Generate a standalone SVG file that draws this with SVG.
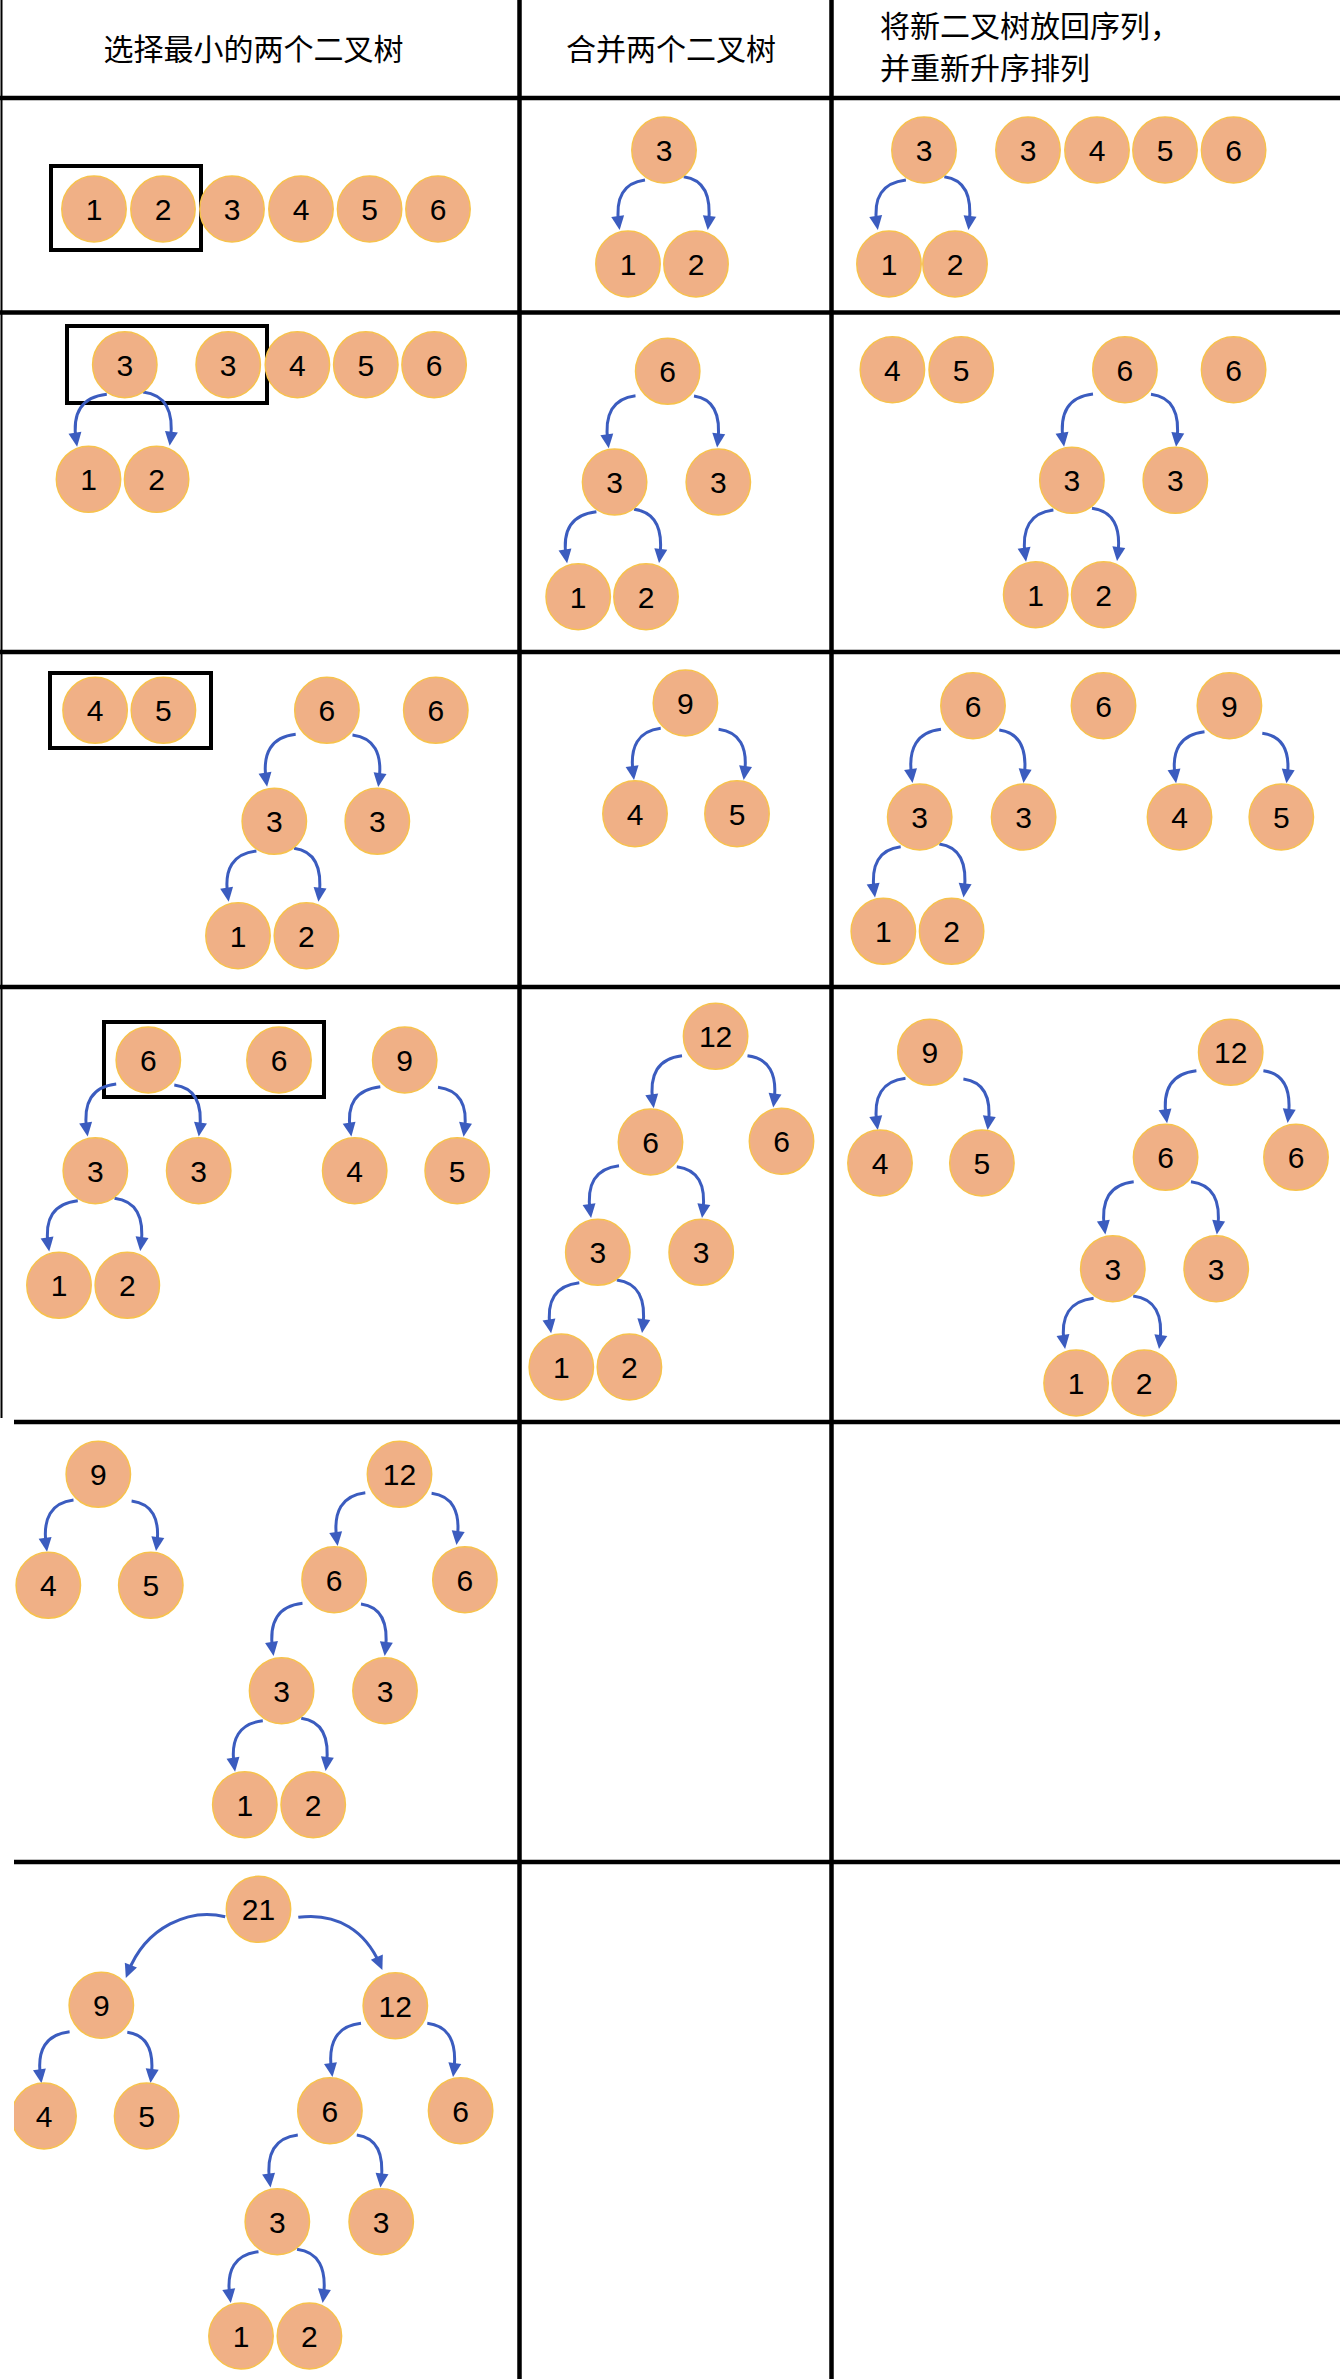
<svg xmlns="http://www.w3.org/2000/svg" width="1340" height="2379" viewBox="0 0 1340 2379">
<style>
.g{stroke:#000;stroke-width:4.5;fill:none}
.b{stroke:#000;stroke-width:2}
.box{stroke:#000;stroke-width:4;fill:none}
.n ellipse{fill:#F0B086;stroke:#F7C24C;stroke-width:1.5}
.n text{font-family:"Liberation Sans",Arial,sans-serif;font-size:30px;fill:#000;text-anchor:middle}
.h{font-family:"Noto Sans CJK SC","Noto Sans CJK TC",sans-serif;font-size:30px;fill:#000}
#edges path{fill:none;stroke:#3B5CBF;stroke-width:3;marker-end:url(#ah)}
</style>
<defs>
<marker id="ah" markerUnits="userSpaceOnUse" markerWidth="16" markerHeight="16" viewBox="0 0 16 16" refX="9" refY="8" orient="auto">
<path d="M1,1.5 L15,8 L1,14.5 z" fill="#3B5CBF"/>
</marker>
<clipPath id="clipL"><rect x="14" y="1862" width="1326" height="517"/></clipPath>
</defs>
<rect width="1340" height="2379" fill="#fff"/>
<g id="grid">
<line class="b" x1="1.5" y1="0" x2="1.5" y2="1418"/>
<line class="g" x1="519.5" y1="0" x2="519.5" y2="2379"/>
<line class="g" x1="831.5" y1="0" x2="831.5" y2="2379"/>
<line class="g" x1="0" y1="98" x2="1340" y2="98"/>
<line class="g" x1="0" y1="312.5" x2="1340" y2="312.5"/>
<line class="g" x1="0" y1="652" x2="1340" y2="652"/>
<line class="g" x1="0" y1="987" x2="1340" y2="987"/>
<line class="g" x1="14" y1="1422" x2="1340" y2="1422"/>
<line class="g" x1="14" y1="1862" x2="1340" y2="1862"/>
</g>
<g id="headers">
<text class="h" x="253.5" y="60" text-anchor="middle">选择最小的两个二叉树</text>
<text class="h" x="671" y="60" text-anchor="middle">合并两个二叉树</text>
<text class="h" x="880" y="37">将新二叉树放回序列，</text>
<text class="h" x="880" y="79">并重新升序排列</text>
</g>
<g id="boxes">
<rect class="box" x="51" y="166" width="150" height="84"/>
<rect class="box" x="67" y="326" width="200" height="77"/>
<rect class="box" x="50" y="673" width="161" height="75"/>
<rect class="box" x="104" y="1022" width="220" height="75"/>
</g>
<g id="edges">
<path d="M645 180 Q613.2 184 618.8 224"/>
<path d="M683.7 176.7 Q713.6 180.7 708.4 224"/>
<path d="M905.9 180 Q870.7 184 876.9 224"/>
<path d="M944.3 176.7 Q974.3 180.7 969.1 224"/>
<path d="M106.8 394.3 Q69.5 398.3 76.2 440.7"/>
<path d="M143 392 Q176.2 396 170.4 439.7"/>
<path d="M635.5 395.7 Q602 399.7 607.9 442.3"/>
<path d="M694 396 Q722.8 400 717.8 441.5"/>
<path d="M596.4 511.7 Q559.7 515.7 566.2 557.3"/>
<path d="M634 509.3 Q665.3 513.3 659.8 557"/>
<path d="M1093 394 Q1056.8 398 1063.2 440.7"/>
<path d="M1151 394.3 Q1182.3 398.3 1176.8 440.7"/>
<path d="M1053.4 510 Q1019.2 514 1025.2 555.7"/>
<path d="M1092 508.3 Q1123.3 512.3 1117.8 555"/>
<path d="M295.7 734.3 Q259.8 738.3 266.2 780.7"/>
<path d="M352.5 735 Q384.6 739 379 781"/>
<path d="M256.4 851 Q221.7 855 227.8 895.7"/>
<path d="M294 848.3 Q324.4 852.3 319.1 895.7"/>
<path d="M660.7 728.3 Q627.3 732.3 633.2 774"/>
<path d="M718.6 729.3 Q750 733.3 744.5 774"/>
<path d="M941 729.3 Q905.4 733.3 911.7 777"/>
<path d="M999.3 730 Q1029.4 734 1024.2 777"/>
<path d="M900.7 846.7 Q868.6 850.7 874.2 891.5"/>
<path d="M939.3 844 Q969.4 848 964.2 891.5"/>
<path d="M1204.5 731.7 Q1168.9 735.7 1175.2 777.3"/>
<path d="M1262.3 733.3 Q1292.4 737.3 1287.2 777.3"/>
<path d="M116.2 1084 Q80.5 1088 86.8 1130.5"/>
<path d="M174.3 1085 Q204.8 1089 199.5 1130.5"/>
<path d="M77.8 1200.7 Q41.9 1204.7 48.3 1245.5"/>
<path d="M114.5 1198.3 Q146.6 1202.3 141 1245"/>
<path d="M380.3 1086.7 Q343.9 1090.7 350.4 1130.7"/>
<path d="M438 1087.3 Q470 1091.3 464.4 1130.7"/>
<path d="M682 1055.7 Q646.6 1059.7 652.9 1102.3"/>
<path d="M747.5 1055.7 Q779.6 1059.7 774 1101.5"/>
<path d="M619 1165.7 Q584 1169.7 590.2 1212"/>
<path d="M676.8 1166.7 Q708.3 1170.7 702.8 1212"/>
<path d="M579.3 1282.7 Q543.9 1286.7 550.2 1327.3"/>
<path d="M616.8 1280 Q648.3 1284 642.8 1327"/>
<path d="M905.5 1078.3 Q870.8 1082.3 876.9 1124"/>
<path d="M963.4 1079 Q993.5 1083 988.3 1124"/>
<path d="M1196.4 1070.7 Q1159.7 1074.7 1166.2 1117.3"/>
<path d="M1263.4 1070.7 Q1293.5 1074.7 1288.3 1117"/>
<path d="M1133.7 1181.7 Q1098.2 1185.7 1104.5 1228.5"/>
<path d="M1191 1181.7 Q1223.3 1185.7 1217.6 1228.5"/>
<path d="M1093.6 1298.3 Q1057.9 1302.3 1064.2 1343"/>
<path d="M1133.2 1296 Q1165.5 1300 1159.8 1343"/>
<path d="M73.5 1500 Q40.4 1504 46.2 1545.7"/>
<path d="M131.6 1501 Q162.1 1505 156.8 1545"/>
<path d="M365.3 1492.7 Q330.7 1496.7 336.8 1540"/>
<path d="M431.6 1493.3 Q462.6 1497.3 457.2 1539"/>
<path d="M302.5 1603.3 Q266.3 1607.3 272.7 1650"/>
<path d="M361 1604 Q390.5 1608 385.4 1650"/>
<path d="M262.8 1720.7 Q228.1 1724.7 234.2 1765.7"/>
<path d="M301.2 1718.3 Q331.7 1722.3 326.4 1765"/>
<path d="M225.2 1916.7 C190 1908 146 1926 128 1972.5"/>
<path d="M298.3 1917.3 C338 1912 366 1932 380 1964.5"/>
<path d="M69.6 2031.7 Q34.4 2035.7 40.6 2077.3"/>
<path d="M127.3 2032.3 Q156.2 2036.3 151.2 2077"/>
<path d="M361 2023.3 Q325.3 2027.3 331.6 2071"/>
<path d="M427.3 2023.3 Q459.4 2027.3 453.8 2071"/>
<path d="M297.8 2135 Q263.7 2139 269.7 2181.5"/>
<path d="M356.8 2135 Q386.2 2139 381.1 2181.5"/>
<path d="M258.5 2251.7 Q223.8 2255.7 229.9 2297"/>
<path d="M297 2249.3 Q329 2253.3 323.4 2297"/>
</g>
<g id="nodes">
<g id="r1c1-1" class="n"><ellipse cx="94" cy="209" rx="32.2" ry="33"/><text x="94" y="220">1</text></g>
<g id="r1c1-2" class="n"><ellipse cx="163" cy="209" rx="32.2" ry="33"/><text x="163" y="220">2</text></g>
<g id="r1c1-3" class="n"><ellipse cx="232" cy="209" rx="32.2" ry="33"/><text x="232" y="220">3</text></g>
<g id="r1c1-4" class="n"><ellipse cx="301" cy="209" rx="32.2" ry="33"/><text x="301" y="220">4</text></g>
<g id="r1c1-5" class="n"><ellipse cx="369.6" cy="209" rx="32.2" ry="33"/><text x="369.6" y="220">5</text></g>
<g id="r1c1-6" class="n"><ellipse cx="438" cy="209" rx="32.2" ry="33"/><text x="438" y="220">6</text></g>

<g id="r1c2-3" class="n"><ellipse cx="664" cy="150" rx="32.2" ry="33"/><text x="664" y="161">3</text></g>
<g id="r1c2-1" class="n"><ellipse cx="628" cy="264" rx="32.2" ry="33"/><text x="628" y="275">1</text></g>
<g id="r1c2-2" class="n"><ellipse cx="696" cy="264" rx="32.2" ry="33"/><text x="696" y="275">2</text></g>

<g id="r1c3-3a" class="n"><ellipse cx="924" cy="150" rx="32.2" ry="33"/><text x="924" y="161">3</text></g>
<g id="r1c3-1" class="n"><ellipse cx="889" cy="264" rx="32.2" ry="33"/><text x="889" y="275">1</text></g>
<g id="r1c3-2" class="n"><ellipse cx="955" cy="264" rx="32.2" ry="33"/><text x="955" y="275">2</text></g>
<g id="r1c3-3b" class="n"><ellipse cx="1028" cy="150" rx="32.2" ry="33"/><text x="1028" y="161">3</text></g>
<g id="r1c3-4" class="n"><ellipse cx="1097" cy="150" rx="32.2" ry="33"/><text x="1097" y="161">4</text></g>
<g id="r1c3-5" class="n"><ellipse cx="1165" cy="150" rx="32.2" ry="33"/><text x="1165" y="161">5</text></g>
<g id="r1c3-6" class="n"><ellipse cx="1233.6" cy="150" rx="32.2" ry="33"/><text x="1233.6" y="161">6</text></g>

<g id="r2c1-3a" class="n"><ellipse cx="124.8" cy="364.7" rx="32.2" ry="33"/><text x="124.8" y="375.7">3</text></g>
<g id="r2c1-3b" class="n"><ellipse cx="228.2" cy="364.7" rx="32.2" ry="33"/><text x="228.2" y="375.7">3</text></g>
<g id="r2c1-4" class="n"><ellipse cx="297.4" cy="364.7" rx="32.2" ry="33"/><text x="297.4" y="375.7">4</text></g>
<g id="r2c1-5" class="n"><ellipse cx="365.8" cy="364.7" rx="32.2" ry="33"/><text x="365.8" y="375.7">5</text></g>
<g id="r2c1-6" class="n"><ellipse cx="434.1" cy="364.7" rx="32.2" ry="33"/><text x="434.1" y="375.7">6</text></g>
<g id="r2c1-1" class="n"><ellipse cx="88.5" cy="479.2" rx="32.2" ry="33"/><text x="88.5" y="490.2">1</text></g>
<g id="r2c1-2" class="n"><ellipse cx="156.6" cy="479.2" rx="32.2" ry="33"/><text x="156.6" y="490.2">2</text></g>

<g id="r2c2-6" class="n"><ellipse cx="667.7" cy="371.3" rx="32.2" ry="33"/><text x="667.7" y="382.3">6</text></g>
<g id="r2c2-3a" class="n"><ellipse cx="614.6" cy="482" rx="32.2" ry="33"/><text x="614.6" y="493">3</text></g>
<g id="r2c2-3b" class="n"><ellipse cx="718.3" cy="482" rx="32.2" ry="33"/><text x="718.3" y="493">3</text></g>
<g id="r2c2-1" class="n"><ellipse cx="578.2" cy="596.7" rx="32.2" ry="33"/><text x="578.2" y="607.7">1</text></g>
<g id="r2c2-2" class="n"><ellipse cx="646" cy="596.7" rx="32.2" ry="33"/><text x="646" y="607.7">2</text></g>

<g id="r2c3-4" class="n"><ellipse cx="892.4" cy="369.7" rx="32.2" ry="33"/><text x="892.4" y="380.7">4</text></g>
<g id="r2c3-5" class="n"><ellipse cx="961.2" cy="369.7" rx="32.2" ry="33"/><text x="961.2" y="380.7">5</text></g>
<g id="r2c3-6a" class="n"><ellipse cx="1124.9" cy="369.7" rx="32.2" ry="33"/><text x="1124.9" y="380.7">6</text></g>
<g id="r2c3-6b" class="n"><ellipse cx="1233.6" cy="369.7" rx="32.2" ry="33"/><text x="1233.6" y="380.7">6</text></g>
<g id="r2c3-3a" class="n"><ellipse cx="1071.9" cy="480.3" rx="32.2" ry="33"/><text x="1071.9" y="491.3">3</text></g>
<g id="r2c3-3b" class="n"><ellipse cx="1175.3" cy="480.3" rx="32.2" ry="33"/><text x="1175.3" y="491.3">3</text></g>
<g id="r2c3-1" class="n"><ellipse cx="1035.7" cy="594.7" rx="32.2" ry="33"/><text x="1035.7" y="605.7">1</text></g>
<g id="r2c3-2" class="n"><ellipse cx="1103.7" cy="594.7" rx="32.2" ry="33"/><text x="1103.7" y="605.7">2</text></g>

<g id="r3c1-4" class="n"><ellipse cx="95.1" cy="710.3" rx="32.2" ry="33"/><text x="95.1" y="721.3">4</text></g>
<g id="r3c1-5" class="n"><ellipse cx="163.4" cy="710.3" rx="32.2" ry="33"/><text x="163.4" y="721.3">5</text></g>
<g id="r3c1-6a" class="n"><ellipse cx="326.9" cy="710.3" rx="32.2" ry="33"/><text x="326.9" y="721.3">6</text></g>
<g id="r3c1-6b" class="n"><ellipse cx="435.8" cy="710.3" rx="32.2" ry="33"/><text x="435.8" y="721.3">6</text></g>
<g id="r3c1-3a" class="n"><ellipse cx="274.3" cy="821.3" rx="32.2" ry="33"/><text x="274.3" y="832.3">3</text></g>
<g id="r3c1-3b" class="n"><ellipse cx="377.3" cy="821.3" rx="32.2" ry="33"/><text x="377.3" y="832.3">3</text></g>
<g id="r3c1-1" class="n"><ellipse cx="238" cy="935.7" rx="32.2" ry="33"/><text x="238" y="946.7">1</text></g>
<g id="r3c1-2" class="n"><ellipse cx="306.4" cy="935.7" rx="32.2" ry="33"/><text x="306.4" y="946.7">2</text></g>

<g id="r3c2-9" class="n"><ellipse cx="685.4" cy="703" rx="32.2" ry="33"/><text x="685.4" y="714">9</text></g>
<g id="r3c2-4" class="n"><ellipse cx="635" cy="813.7" rx="32.2" ry="33"/><text x="635" y="824.7">4</text></g>
<g id="r3c2-5" class="n"><ellipse cx="737" cy="813.7" rx="32.2" ry="33"/><text x="737" y="824.7">5</text></g>

<g id="r3c3-6a" class="n"><ellipse cx="973" cy="705.7" rx="32.2" ry="33"/><text x="973" y="716.7">6</text></g>
<g id="r3c3-6b" class="n"><ellipse cx="1103.5" cy="705.7" rx="32.2" ry="33"/><text x="1103.5" y="716.7">6</text></g>
<g id="r3c3-9" class="n"><ellipse cx="1229.4" cy="705.7" rx="32.2" ry="33"/><text x="1229.4" y="716.7">9</text></g>
<g id="r3c3-3a" class="n"><ellipse cx="919.7" cy="817" rx="32.2" ry="33"/><text x="919.7" y="828">3</text></g>
<g id="r3c3-3b" class="n"><ellipse cx="1023.6" cy="817" rx="32.2" ry="33"/><text x="1023.6" y="828">3</text></g>
<g id="r3c3-4" class="n"><ellipse cx="1179.5" cy="817" rx="32.2" ry="33"/><text x="1179.5" y="828">4</text></g>
<g id="r3c3-5" class="n"><ellipse cx="1281.3" cy="817" rx="32.2" ry="33"/><text x="1281.3" y="828">5</text></g>
<g id="r3c3-1" class="n"><ellipse cx="883.3" cy="931.3" rx="32.2" ry="33"/><text x="883.3" y="942.3">1</text></g>
<g id="r3c3-2" class="n"><ellipse cx="951.6" cy="931.3" rx="32.2" ry="33"/><text x="951.6" y="942.3">2</text></g>

<g id="r4c1-6a" class="n"><ellipse cx="148.3" cy="1060" rx="32.2" ry="33"/><text x="148.3" y="1071">6</text></g>
<g id="r4c1-6b" class="n"><ellipse cx="279" cy="1060" rx="32.2" ry="33"/><text x="279" y="1071">6</text></g>
<g id="r4c1-9" class="n"><ellipse cx="404.7" cy="1060" rx="32.2" ry="33"/><text x="404.7" y="1071">9</text></g>
<g id="r4c1-3a" class="n"><ellipse cx="95.3" cy="1170.7" rx="32.2" ry="33"/><text x="95.3" y="1181.7">3</text></g>
<g id="r4c1-3b" class="n"><ellipse cx="198.7" cy="1170.7" rx="32.2" ry="33"/><text x="198.7" y="1181.7">3</text></g>
<g id="r4c1-4" class="n"><ellipse cx="354.7" cy="1170.7" rx="32.2" ry="33"/><text x="354.7" y="1181.7">4</text></g>
<g id="r4c1-5" class="n"><ellipse cx="457.2" cy="1170.7" rx="32.2" ry="33"/><text x="457.2" y="1181.7">5</text></g>
<g id="r4c1-1" class="n"><ellipse cx="59" cy="1285.3" rx="32.2" ry="33"/><text x="59" y="1296.3">1</text></g>
<g id="r4c1-2" class="n"><ellipse cx="127.3" cy="1285.3" rx="32.2" ry="33"/><text x="127.3" y="1296.3">2</text></g>

<g id="r4c2-12" class="n"><ellipse cx="715.6" cy="1036.3" rx="32.2" ry="33"/><text x="715.6" y="1047.3">12</text></g>
<g id="r4c2-6a" class="n"><ellipse cx="650.5" cy="1142" rx="32.2" ry="33"/><text x="650.5" y="1153">6</text></g>
<g id="r4c2-6b" class="n"><ellipse cx="781.5" cy="1141.3" rx="32.2" ry="33"/><text x="781.5" y="1152.3">6</text></g>
<g id="r4c2-3a" class="n"><ellipse cx="597.8" cy="1252.3" rx="32.2" ry="33"/><text x="597.8" y="1263.3">3</text></g>
<g id="r4c2-3b" class="n"><ellipse cx="701.2" cy="1252.3" rx="32.2" ry="33"/><text x="701.2" y="1263.3">3</text></g>
<g id="r4c2-1" class="n"><ellipse cx="561.3" cy="1367" rx="32.2" ry="33"/><text x="561.3" y="1378">1</text></g>
<g id="r4c2-2" class="n"><ellipse cx="629.4" cy="1367" rx="32.2" ry="33"/><text x="629.4" y="1378">2</text></g>

<g id="r4c3-9" class="n"><ellipse cx="929.9" cy="1052.3" rx="32.2" ry="33"/><text x="929.9" y="1063.3">9</text></g>
<g id="r4c3-4" class="n"><ellipse cx="880" cy="1163" rx="32.2" ry="33"/><text x="880" y="1174">4</text></g>
<g id="r4c3-5" class="n"><ellipse cx="981.9" cy="1163" rx="32.2" ry="33"/><text x="981.9" y="1174">5</text></g>
<g id="r4c3-12" class="n"><ellipse cx="1230.7" cy="1052.3" rx="32.2" ry="33"/><text x="1230.7" y="1063.3">12</text></g>
<g id="r4c3-6a" class="n"><ellipse cx="1165.6" cy="1157.3" rx="32.2" ry="33"/><text x="1165.6" y="1168.3">6</text></g>
<g id="r4c3-6b" class="n"><ellipse cx="1296" cy="1157.3" rx="32.2" ry="33"/><text x="1296" y="1168.3">6</text></g>
<g id="r4c3-3a" class="n"><ellipse cx="1112.8" cy="1268.7" rx="32.2" ry="33"/><text x="1112.8" y="1279.7">3</text></g>
<g id="r4c3-3b" class="n"><ellipse cx="1216.2" cy="1268.7" rx="32.2" ry="33"/><text x="1216.2" y="1279.7">3</text></g>
<g id="r4c3-1" class="n"><ellipse cx="1076.1" cy="1383" rx="32.2" ry="33"/><text x="1076.1" y="1394">1</text></g>
<g id="r4c3-2" class="n"><ellipse cx="1144.2" cy="1383" rx="32.2" ry="33"/><text x="1144.2" y="1394">2</text></g>

<g id="r5c1-9" class="n"><ellipse cx="98.3" cy="1474.3" rx="32.2" ry="33"/><text x="98.3" y="1485.3">9</text></g>
<g id="r5c1-4" class="n"><ellipse cx="48.3" cy="1585.3" rx="32.2" ry="33"/><text x="48.3" y="1596.3">4</text></g>
<g id="r5c1-5" class="n"><ellipse cx="150.8" cy="1585.3" rx="32.2" ry="33"/><text x="150.8" y="1596.3">5</text></g>
<g id="r5c1-12" class="n"><ellipse cx="399.5" cy="1474.3" rx="32.2" ry="33"/><text x="399.5" y="1485.3">12</text></g>
<g id="r5c1-6a" class="n"><ellipse cx="334.1" cy="1579.7" rx="32.2" ry="33"/><text x="334.1" y="1590.7">6</text></g>
<g id="r5c1-6b" class="n"><ellipse cx="464.9" cy="1579.7" rx="32.2" ry="33"/><text x="464.9" y="1590.7">6</text></g>
<g id="r5c1-3a" class="n"><ellipse cx="281.6" cy="1690.7" rx="32.2" ry="33"/><text x="281.6" y="1701.7">3</text></g>
<g id="r5c1-3b" class="n"><ellipse cx="385" cy="1690.7" rx="32.2" ry="33"/><text x="385" y="1701.7">3</text></g>
<g id="r5c1-1" class="n"><ellipse cx="244.8" cy="1804.7" rx="32.2" ry="33"/><text x="244.8" y="1815.7">1</text></g>
<g id="r5c1-2" class="n"><ellipse cx="313.2" cy="1804.7" rx="32.2" ry="33"/><text x="313.2" y="1815.7">2</text></g>

<g id="r6c1-21" class="n"><ellipse cx="258.5" cy="1909.3" rx="32.2" ry="33"/><text x="258.5" y="1920.3">21</text></g>
<g id="r6c1-9" class="n"><ellipse cx="101.3" cy="2005.3" rx="32.2" ry="33"/><text x="101.3" y="2016.3">9</text></g>
<g id="r6c1-12" class="n"><ellipse cx="395.3" cy="2005.7" rx="32.2" ry="33"/><text x="395.3" y="2016.7">12</text></g>
<g id="r6c1-4" class="n"><ellipse cx="44" cy="2116" rx="32.2" ry="33" clip-path="url(#clipL)"/><text x="44" y="2127">4</text></g>
<g id="r6c1-5" class="n"><ellipse cx="146.6" cy="2116" rx="32.2" ry="33"/><text x="146.6" y="2127">5</text></g>
<g id="r6c1-6a" class="n"><ellipse cx="329.9" cy="2110.7" rx="32.2" ry="33"/><text x="329.9" y="2121.7">6</text></g>
<g id="r6c1-6b" class="n"><ellipse cx="460.6" cy="2110.7" rx="32.2" ry="33"/><text x="460.6" y="2121.7">6</text></g>
<g id="r6c1-3a" class="n"><ellipse cx="277.3" cy="2221.7" rx="32.2" ry="33"/><text x="277.3" y="2232.7">3</text></g>
<g id="r6c1-3b" class="n"><ellipse cx="381.2" cy="2221.7" rx="32.2" ry="33"/><text x="381.2" y="2232.7">3</text></g>
<g id="r6c1-1" class="n"><ellipse cx="241" cy="2336" rx="32.2" ry="33"/><text x="241" y="2347">1</text></g>
<g id="r6c1-2" class="n"><ellipse cx="309.4" cy="2336" rx="32.2" ry="33"/><text x="309.4" y="2347">2</text></g>
</g>
</svg>
